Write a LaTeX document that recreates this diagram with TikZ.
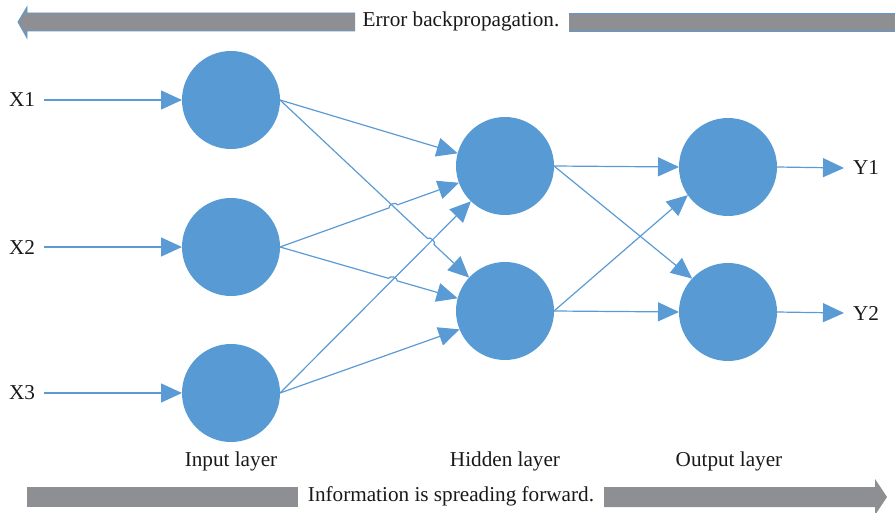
\documentclass[tikz,border=0pt]{standalone}
\usepackage{fontspec}
\setmainfont{Liberation Serif}
\usetikzlibrary{arrows.meta,calc,intersections}
\definecolor{nblue}{RGB}{88,155,212}
\definecolor{lblue}{RGB}{91,155,213}
\definecolor{bargrey}{RGB}{142,143,147}
\tikzset{
  neuron/.style={circle,fill=nblue,minimum size=98pt,inner sep=0pt,outer sep=0pt},
  lbl/.style={font=\fontsize{21.2}{24}\selectfont,text=black!90,inner sep=0pt},
  conn/.style={draw=lblue,line width=1.2pt,-{Triangle[length=21pt,width=19pt]}},
  bar/.style={fill=bargrey,draw=none},
}
\begin{document}
\begin{tikzpicture}[x=1pt,y=-1pt]
\useasboundingbox (0,0) rectangle (895,513);

% top and bottom bars
\fill[bar] (355,13) -- (27,13) -- (27,7) -- (18,22) -- (27,38) -- (27,31) -- (355,31) -- cycle;
\draw[lblue,line width=0.9pt] (355,13) -- (27,13) -- (27,7) -- (18,22) -- (27,38) -- (27,31) -- (355,31);
\fill[bar] (569,13) rectangle (895,31);
\draw[lblue,line width=0.9pt] (569,13) -- (895,13) (569,31) -- (895,31);
\node[lbl] (err) at (461,21) {Error backpropagation.};

\fill[bar] (27,487) rectangle (298,507);
\fill[bar] (604,487) -- (875,487) -- (875,479) -- (887,497) -- (875,515) -- (875,507) -- (604,507) -- cycle;
\node[lbl] (info) at (451,496) {Information is spreading forward.};

% neurons
\node[neuron] (I1) at (231,100) {};
\node[neuron] (I2) at (231,247) {};
\node[neuron] (I3) at (231,393) {};
\node[neuron] (H1) at (505,166) {};
\node[neuron] (H2) at (505,311) {};
\node[neuron] (O1) at (728,167) {};
\node[neuron] (O2) at (728,312) {};

% labels
\node[lbl] (x1) at (22,100) {X1};
\node[lbl] (x2) at (22,247) {X2};
\node[lbl] (x3) at (22,393) {X3};
\node[lbl] (y1) at (866,168) {Y1};
\node[lbl] (y2) at (866,313) {Y2};
\node[lbl] (li) at (231,461) {Input layer};
\node[lbl] (lh) at (505,461) {Hidden layer};
\node[lbl] (lo) at (729,461) {Output layer};

\coordinate (s1) at (44,100);
\coordinate (s2) at (44,247);
\coordinate (s3) at (44,393);
\coordinate (t1) at (844,168);
\coordinate (t2) at (844,313);

% input arrows
\draw[conn] (s1) -- (I1.west);
\draw[conn] (s2) -- (I2.west);
\draw[conn] (s3) -- (I3.west);

% output arrows
\draw[conn] (O1.east) -- (t1);
\draw[conn] (O2.east) -- (t2);

% input -> hidden
\path[name path=l2] (I1.east) -- (H2.137);
\path[name path=l3] (I2.east) -- (H1.200);
\path[name path=l4] (I2.east) -- (H2.165);
\path[name path=l5] (I3.east) -- (H1.226);
\path[name intersections={of=l2 and l3,by=c23}];
\path[name intersections={of=l2 and l5,by=c25}];
\path[name intersections={of=l4 and l5,by=c45}];

\draw[conn] (I1.east) -- (H1.165);
\draw[conn] (I1.east) -- ($(c25)!4.5pt!(I1.east)$) to[bend left=90] ($(c25)!4.5pt!(H2.137)$) -- (H2.137);
\draw[conn] (I2.east) -- ($(c23)!4.5pt!(I2.east)$) to[bend left=90] ($(c23)!4.5pt!(H1.200)$) -- (H1.200);
\draw[conn] (I2.east) -- ($(c45)!4.5pt!(I2.east)$) to[bend left=90] ($(c45)!4.5pt!(H2.165)$) -- (H2.165);
\draw[conn] (I3.east) -- (H1.226);
\draw[conn] (I3.east) -- (H2.202);

% hidden -> output
\draw[conn] (H1.east) -- (O1.west);
\draw[conn] (H1.east) -- (O2.137);
\draw[conn] (H2.east) -- (O1.215);
\draw[conn] (H2.east) -- (O2.west);
\end{tikzpicture}
\end{document}
